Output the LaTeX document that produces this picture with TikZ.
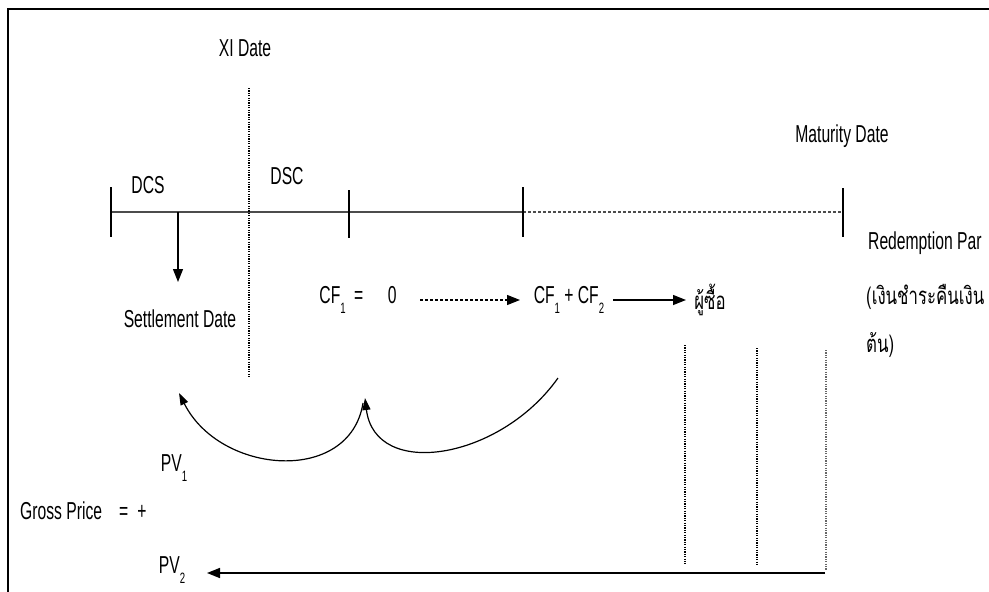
\documentclass[tikz,border=0pt]{standalone}
\usepackage{fontspec}
\setmainfont{Liberation Sans}[FakeStretch=0.64]
\newfontfamily\thaifont[Script=Thai,FakeStretch=0.7]{Loma}
\usetikzlibrary{arrows.meta}
\newcommand\lowidx[1]{\raisebox{-0.42em}{\fontsize{15}{15}\selectfont #1}}
\begin{document}
\begin{tikzpicture}[x=1pt,y=-1pt,
  lbl/.style={font=\fontsize{24.5}{27}\selectfont, inner sep=0pt, text=black},
  thai/.style={font=\fontsize{24}{27}\selectfont\thaifont, inner sep=0pt, text=black},
  axis/.style={line width=1.2pt, draw=black!70},
  tickmark/.style={line width=1.6pt},
  dotline/.style={line width=1.2pt, dash pattern=on 1.1pt off 1.3pt},
  dashline/.style={line width=1.1pt, dash pattern=on 3pt off 2pt},
  arr/.style={-{Triangle[length=13pt,width=10pt]}, line width=1.4pt},
  curvearr/.style={-{Triangle[length=12pt,width=8pt]}, line width=1.2pt}]
\useasboundingbox (0,0) rectangle (989,592);
% frame
\draw[line width=2.6pt] (8,592) -- (8,9) -- (989,9);

% timeline
\coordinate (a) at (111,212);
\coordinate (b) at (349,212);
\coordinate (c) at (523,212);
\coordinate (d) at (843,212);
\coordinate (s0) at (178,212);
\draw[axis] (a) -- (c);
\draw[axis,dashline] (c) -- (d);
\draw[tickmark] (111,187) -- (111,237);
\draw[tickmark] (349,190) -- (349,238);
\draw[tickmark] (523,187) -- (523,237);
\draw[tickmark] (843,188) -- (843,237);

% XI date dotted line
\draw[dotline] (249,88) -- (249,378);

% labels
\node[lbl] (xi) at (245,48) {XI Date};
\node[lbl] (dcs) at (148,185) {DCS};
\node[lbl] (dsc) at (287,176) {DSC};
\node[lbl] (settle) at (180,319) {Settlement Date};
\node[lbl] (mat) at (842,136) {Maturity Date};
\node[lbl,anchor=west] (red) at (868,243) {Redemption Par};
\node[thai,anchor=west] (red2) at (866,297) {(เงินชำระคืนเงิน};
\node[thai,anchor=west] (red3) at (866,345) {ต้น)};

\coordinate (s1) at (178,282);
\draw[arr] (s0) -- (s1);

% cash flow row
\node[lbl] (cf1) at (358,300) {CF\lowidx{1}\, =\quad 0};
\node[lbl] (cf12) at (569,300) {CF\lowidx{1} + CF\lowidx{2}};
\node[thai] (buyer) at (710,300) {ผู้ซื้อ};
\coordinate (da0) at (420,300);
\coordinate (da1) at (520,300);
\draw[arr,line width=1.1pt,dash pattern=on 3pt off 2pt] (da0) -- (da1);
\coordinate (sa0) at (613,300);
\coordinate (sa1) at (686,300);
\draw[arr] (sa0) -- (sa1);

% vertical dotted lines
\draw[dotline] (685,345) -- (685,564);
\draw[dotline] (757,348) -- (757,566);
\draw[dotline,draw=black!60] (826,350) -- (826,570);

% curved arrows
\coordinate (cA0) at (558,378);
\coordinate (cA1) at (365,398);
\coordinate (cB0) at (363,403);
\coordinate (cB1) at (179,393);
\draw[curvearr] (cA0) .. controls (500,460) and (375,480) .. (cA1);
\draw[curvearr] (cB0) .. controls (350,485) and (220,475) .. (cB1);

% gross price
\node[lbl] (pv1) at (174,468) {PV\lowidx{1}};
\node[lbl,anchor=west] (gp) at (20,511) {Gross Price\hspace{17pt}=\hspace{9pt}+};
\node[lbl] (pv2) at (172,570) {PV\lowidx{2}};
\coordinate (ba0) at (825,573);
\coordinate (ba1) at (207,573);
\draw[arr,line width=1.6pt] (ba0) -- (ba1);
\end{tikzpicture}
\end{document}
